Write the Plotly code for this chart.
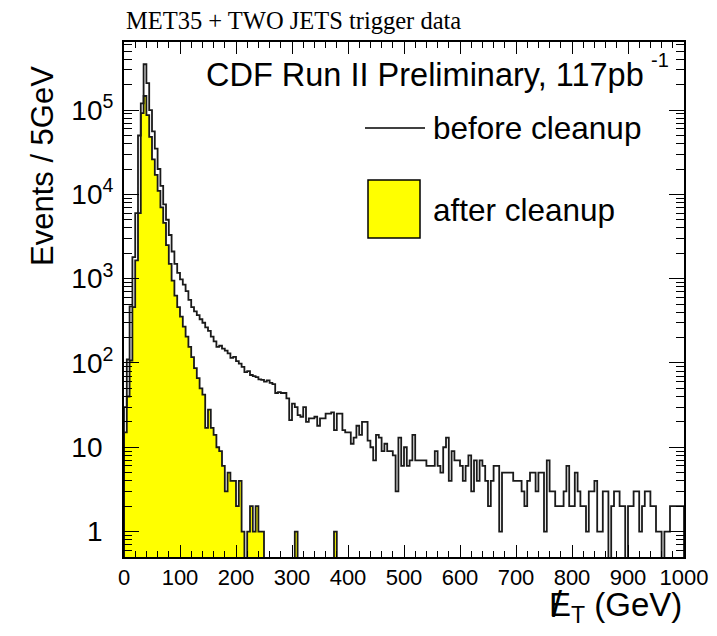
import plotly.graph_objects as go

# ---------------- data (5 GeV bins, 0-1000 GeV) ----------------
bin_width = 5
n_bins = 200

before_cleanup = [
    30, 110, 470, 1800, 6000, 50000, 120000, 350000, 209000, 100000,
    56000, 35000, 20000, 12600, 7600, 5000, 3300, 2100, 1500, 1170,
    980, 850, 710, 560, 460, 410, 370, 330, 300, 265,
    240, 205, 180, 155, 160, 148, 140, 130, 115, 118,
    105, 98, 90, 78, 80, 72, 70, 68, 64, 63,
    60, 62, 58, 56, 44, 45, 44, 44, 38, 21,
    33, 30, 24, 23, 30, 20, 22, 22, 23, 18,
    22, 22, 25, 25, 26, 16, 25, 25, 16, 15,
    15, 11, 13, 18, 14, 20, 20, 12, 10, 7,
    14, 13, 9, 11, 9, 9, 8, 3, 13, 6,
    10, 6, 7, 14, 7, 7, 7, 7, 6, 6,
    6, 9, 6, 5, 10, 13, 4, 9, 7, 7,
    6, 4, 6, 8, 3, 7, 4, 7, 6, 4,
    2, 4, 6, 6, 1, 5, 5, 5, 5, 4,
    4, 4, 3, 2, 4, 5, 5, 3, 5, 5,
    1, 7, 3, 3, 2, 2, 2, 3, 6, 2,
    2, 5, 3, 2, 2, 1, 3, 3, 4, 1,
    1, 3, 3, 0, 2, 3, 3, 2, 2, 0,
    2, 2, 3, 3, 1, 2, 3, 3, 2, 2,
    1, 1, 0, 1, 1, 2, 2, 2, 2, 2,
]

after_cleanup = [
    15, 40, 107, 460, 1650, 6000, 92000, 147000, 87000, 48000,
    26000, 17000, 11000, 7000, 4600, 2500, 1500, 950, 630, 460,
    355, 270, 205, 155, 117, 87, 66, 50, 42, 17,
    28, 17, 14, 10, 9, 6, 3, 5, 4, 4,
    2, 4, 1, 0, 1, 2, 1, 2, 1, 1,
    0, 0, 0, 0, 0, 0, 0, 0, 0, 0,
    0, 1, 0, 0, 0, 0, 0, 0, 0, 0,
    0, 0, 0, 0, 0, 1, 0, 0, 0, 0,
] + [0] * 120

y_tick_values = [1, 10, 100, 1000, 10000, 100000]
PAD = "<sup>&nbsp;&nbsp;</sup>"
y_tick_labels = ["1" + PAD, "10" + PAD, "10<sup>2</sup>", "10<sup>3</sup>",
                 "10<sup>4</sup>", "10<sup>5</sup>"]

title_text = "MET35 + TWO JETS trigger data"
label_text = "CDF Run II Preliminary, 117pb"
label_exponent = "-1"
legend_before = "before cleanup"
legend_after = "after cleanup"
x_title = "E<sub>T</sub> (GeV)"
x_title_slash = "/"
y_title = "Events / 5GeV"

# ---------------- helpers ----------------
FLOOR = 1e-3  # empty bins drawn down below the frame bottom


def step_xy(counts):
    edges = [i * bin_width for i in range(n_bins)]
    ys = [c if c > 0 else FLOOR for c in counts]
    xs = [0] + edges + [n_bins * bin_width, n_bins * bin_width]
    yy = [FLOOR] + ys + [ys[-1], FLOOR]
    return xs, yy


FONT = "Liberation Sans, Arial, Helvetica, sans-serif"
BODY = 8  # default page margin around the plot div
# plot frame in page pixels: x 124..684, y 42..557
FX0, FX1, FY0, FY1 = 124, 684, 42, 557
W, H = 717 - BODY, 636 - BODY
L, T = FX0 - BODY, FY0 - BODY
R, B = W - (FX1 - BODY), H - (FY1 - BODY)
PW, PH = FX1 - FX0, FY1 - FY0


def px(x):
    return (x - FX0) / PW


def py(y):
    return (FY1 - y) / PH


fig = go.Figure()

xa, ya = step_xy(after_cleanup)
fig.add_trace(go.Scatter(
    x=xa, y=ya, mode="lines", line=dict(shape="hv", color="#1a1a1a", width=1.8),
    fill="tozeroy", fillcolor="#ffff00", showlegend=False, hoverinfo="skip"))

xb, yb = step_xy(before_cleanup)
fig.add_trace(go.Scatter(
    x=xb, y=yb, mode="lines", line=dict(shape="hv", color="#1a1a1a", width=1.8),
    showlegend=False, hoverinfo="skip"))

minor_y = [m * 10 ** k for k in range(-1, 6) for m in range(2, 10)]

fig.update_layout(
    width=W, height=H,
    margin=dict(l=L, r=R, t=T, b=B, autoexpand=False),
    paper_bgcolor="white", plot_bgcolor="white",
    font=dict(family=FONT, color="black"),
    xaxis=dict(
        range=[0, 1000], showgrid=False, zeroline=False, automargin=False,
        showline=True, linecolor="black", linewidth=2, mirror="allticks",
        ticks="inside", ticklen=12, tickwidth=1, tickcolor="black",
        tickmode="linear", tick0=0, dtick=100,
        tickfont=dict(size=22, family=FONT),
        minor=dict(ticks="inside", ticklen=6, tickwidth=1, tickcolor="black", dtick=20, showgrid=False),
    ),
    yaxis=dict(
        type="log", range=[-0.302, 5.808], showgrid=False, zeroline=False, automargin=False,
        showline=True, linecolor="black", linewidth=2, mirror="allticks",
        ticks="inside", ticklen=15, tickwidth=1, tickcolor="black",
        tickmode="array", tickvals=y_tick_values, ticktext=y_tick_labels,
        tickfont=dict(size=28, family=FONT),
        ticklabelstandoff=3,
        minor=dict(ticks="inside", ticklen=8, tickwidth=1, tickcolor="black",
                   tickmode="array", tickvals=minor_y, showgrid=False),
    ),
)

annotations = [
    dict(text=title_text, xref="paper", yref="paper", x=px(124), y=py(20),
         xanchor="left", yanchor="middle", showarrow=False,
         font=dict(family="Liberation Serif, Times New Roman, serif", size=24.5, color="black")),
    dict(text=label_text, xref="paper", yref="paper", x=px(204), y=py(75),
         xanchor="left", yanchor="middle", showarrow=False,
         font=dict(family=FONT, size=32.5, color="black")),
    dict(text=label_exponent, xref="paper", yref="paper", x=px(649), y=py(60),
         xanchor="left", yanchor="middle", showarrow=False,
         font=dict(family=FONT, size=20, color="black")),
    dict(text=legend_before, xref="paper", yref="paper", x=px(431), y=py(128),
         xanchor="left", yanchor="middle", showarrow=False,
         font=dict(family=FONT, size=31.5, color="black")),
    dict(text=legend_after, xref="paper", yref="paper", x=px(431), y=py(210),
         xanchor="left", yanchor="middle", showarrow=False,
         font=dict(family=FONT, size=31.5, color="black")),
    dict(text=x_title, xref="paper", yref="paper", x=px(684), y=py(607),
         xanchor="right", yanchor="middle", showarrow=False,
         font=dict(family=FONT, size=33, color="black")),
    dict(text=x_title_slash, xref="paper", yref="paper", x=px(557), y=py(604),
         xanchor="center", yanchor="middle", showarrow=False,
         font=dict(family=FONT, size=36, color="black")),
    dict(text=y_title, xref="paper", yref="paper", x=px(42), y=py(166),
         xanchor="center", yanchor="middle", showarrow=False, textangle=-90,
         font=dict(family=FONT, size=31, color="black")),
]
fig.update_layout(annotations=annotations)

shapes = [
    dict(type="line", xref="paper", yref="paper",
         x0=px(365), x1=px(425), y0=py(128), y1=py(128),
         line=dict(color="black", width=1.5)),
    dict(type="rect", xref="paper", yref="paper",
         x0=px(368), x1=px(420), y0=py(238), y1=py(180),
         fillcolor="#ffff00", line=dict(color="black", width=1.5)),
]
fig.update_layout(shapes=shapes)

fig.write_html("out.html")
